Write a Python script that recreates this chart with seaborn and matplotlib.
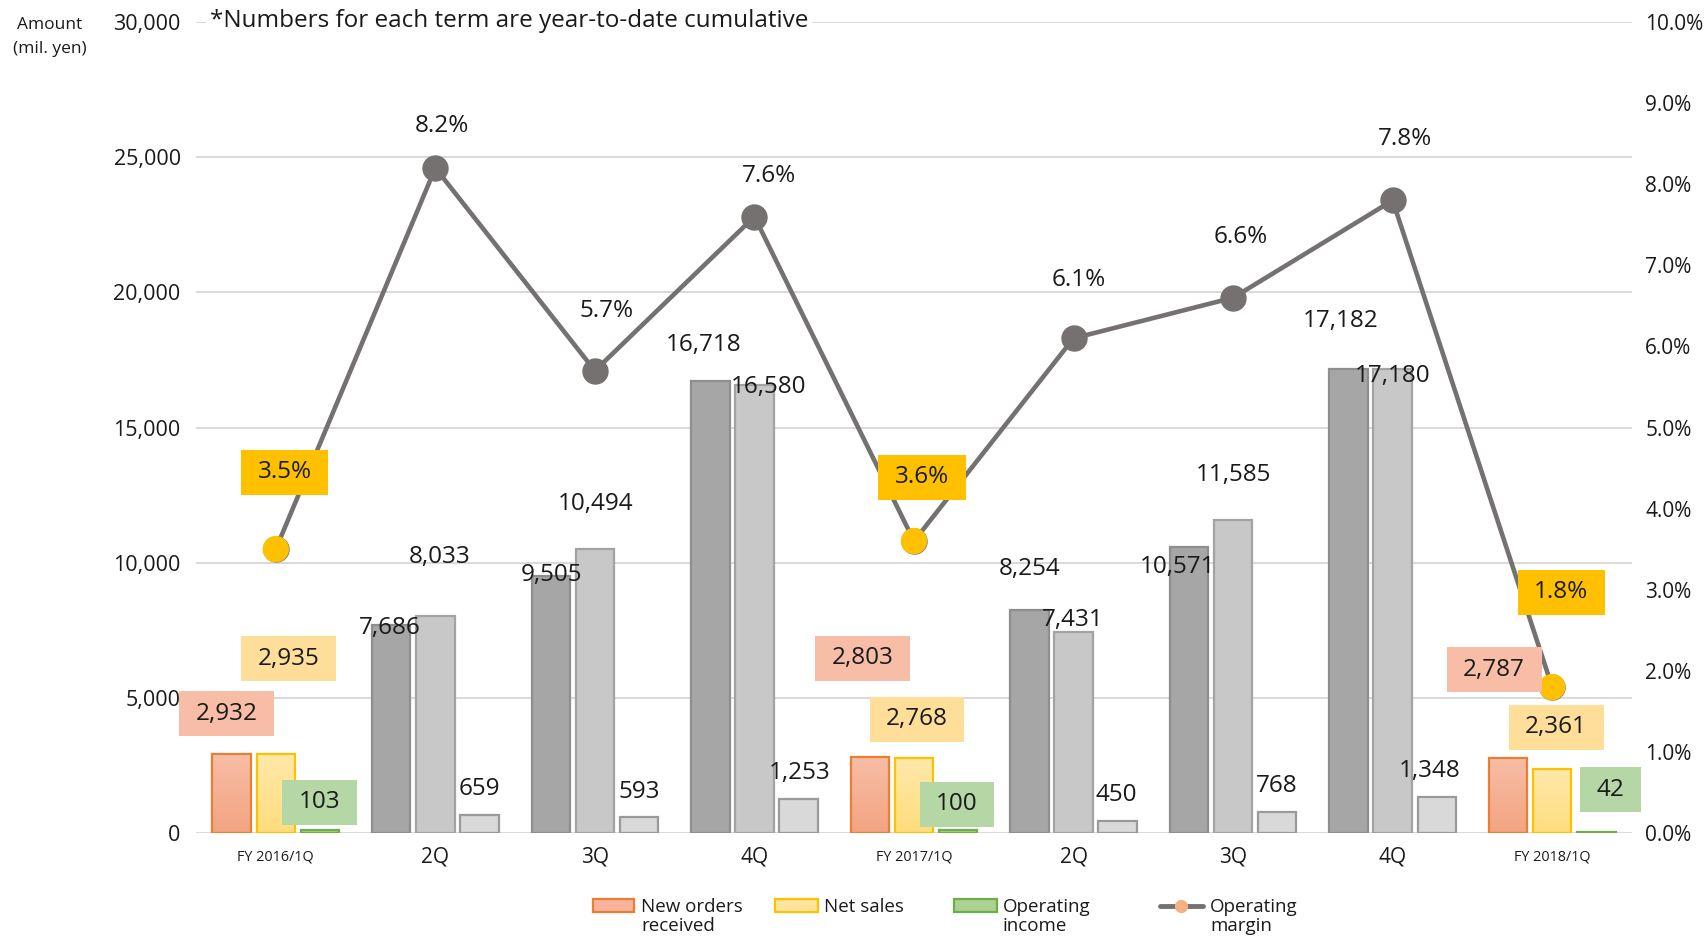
import numpy as np
import pandas as pd
import matplotlib
matplotlib.use("Agg")
import matplotlib.pyplot as plt
import seaborn as sns
from matplotlib.patches import Rectangle
from matplotlib.lines import Line2D
from matplotlib.path import Path
from matplotlib.colors import LinearSegmentedColormap

# ---- data -------------------------------------------------------------
periods = ["FY 2016/1Q", "2Q", "3Q", "4Q", "FY 2017/1Q", "2Q", "3Q", "4Q", "FY 2018/1Q"]
new_orders = [2932, 7686, 9505, 16718, 2803, 8254, 10571, 17182, 2787]
net_sales = [2935, 8033, 10494, 16580, 2768, 7431, 11585, 17180, 2361]
op_income = [103, 659, 593, 1253, 100, 450, 768, 1348, 42]
op_margin = [3.5, 8.2, 5.7, 7.6, 3.6, 6.1, 6.6, 7.8, 1.8]
series_names = ["New orders received", "Net sales", "Operating income"]
amount_ticks = [0, 5000, 10000, 15000, 20000, 25000, 30000]
margin_ticks = [0, 1, 2, 3, 4, 5, 6, 7, 8, 9, 10]

# ---- styling ----------------------------------------------------------
sns.set_style("white")
plt.rcParams["font.family"] = ["Open Sans", "DejaVu Sans"]
TXT = "#1a1a1a"

first_q = [p.startswith("FY") for p in periods]
n = len(periods)

# gradient (bottom, top), edge, label box colours of the first-quarter bars
q1_style = [
    (("#F3A481", "#F7BDA6"), "#ED7D31", "#F7BDA6"),
    (("#FFDD7E", "#FFE8AA"), "#FFC000", "#FFDE9A"),
    (("#9CCB80", "#B8DAA5"), "#70AD47", "#B5D6A5"),
]
# fill, edge of the grey bars for the remaining quarters
grey_style = [("#A6A6A6", "#8E8E8E"), ("#C8C8C8", "#A3A3A3"), ("#D9D9D9", "#9A9A9A")]


def label_box(x0, y0, width, height, mutation_size):
    """Flat rectangle with a wider horizontal than vertical margin."""
    padx = 0.68 * mutation_size
    h = 1.85 * mutation_size
    cy = y0 + height / 2
    return Path([(x0 - padx, cy - h / 2), (x0 + width + padx, cy - h / 2),
                 (x0 + width + padx, cy + h / 2), (x0 - padx, cy + h / 2),
                 (x0 - padx, cy - h / 2)], closed=True)


df = pd.DataFrame({
    "period": np.tile(np.arange(n), 3),
    "series": np.repeat(series_names, n),
    "amount": new_orders + net_sales + op_income,
})

fig = plt.figure(figsize=(17.06, 9.36), dpi=100)
ax = fig.add_axes([0.1149, 0.110, 0.8417, 0.8665])

sns.barplot(data=df, x="period", y="amount", hue="series", hue_order=series_names,
            width=0.83, gap=0.13, saturation=1, errorbar=None, legend=False, ax=ax)

grad = np.linspace(0, 1, 128).reshape(-1, 1)
for s, cont in enumerate(ax.containers):
    bars = sorted(cont.patches, key=lambda p: p.get_x())
    for i, bar in enumerate(bars):
        bar.set_linewidth(1.6)
        bar.set_zorder(3)
        if first_q[i]:
            (c_bot, c_top), edge, _ = q1_style[s]
            bar.set_facecolor("none")
            bar.set_edgecolor(edge)
            x0, w, h = bar.get_x(), bar.get_width(), bar.get_height()
            cmap = LinearSegmentedColormap.from_list("g", [c_bot, c_top])
            im = ax.imshow(grad, cmap=cmap, origin="lower", aspect="auto",
                           extent=(x0, x0 + w, 0, h), zorder=2.9)
            im.set_clip_path(bar)
        else:
            fill, edge = grey_style[s]
            bar.set_facecolor(fill)
            bar.set_edgecolor(edge)
ax.set_xlim(-0.5, n - 0.5)
ax.set_ylim(0, 30000)

ax.set_axisbelow(True)
ax.grid(axis="y", color="#D9D9D9", lw=1.4)
ax.grid(axis="x", visible=False)
for sp in ax.spines.values():
    sp.set_visible(False)
ax.set_xlabel("")
ax.set_ylabel("")
ax.set_yticks(amount_ticks)
ax.set_yticklabels([f"{v:,}" for v in amount_ticks], fontsize=15.5, color=TXT)
ax.tick_params(axis="y", length=0, pad=11)
ax.set_xticks(range(n))
ax.set_xticklabels(periods, color=TXT)
ax.tick_params(axis="x", length=0, pad=17)
for lab, fq in zip(ax.get_xticklabels(), first_q):
    lab.set_fontsize(10.4 if fq else 15)
    lab.set_va("center")

# ---- operating margin on the secondary axis ----------------------------
ax2 = ax.twinx()
xs = np.arange(n)
sns.lineplot(x=xs, y=op_margin, ax=ax2, color="#757171", lw=3.3, marker="o",
             markersize=19, markeredgewidth=0, markerfacecolor="#757171", zorder=4)
sns.scatterplot(x=xs[first_q], y=np.array(op_margin)[first_q], ax=ax2, s=19 ** 2,
                color="#FFC000", edgecolor="none", zorder=5, legend=False)
ax2.set_ylim(0, 10)
ax2.set_xlim(-0.5, n - 0.5)
ax2.set_yticks(margin_ticks)
ax2.set_yticklabels([f"{v:.1f}%" for v in margin_ticks], fontsize=15, color=TXT)
ax2.tick_params(axis="y", length=0, pad=9.5)
ax2.set_ylabel("")
for sp in ax2.spines.values():
    sp.set_visible(False)
ax2.grid(False)

# ---- data labels (offsets in pixels from the mark) ----------------------
bar_offset = [-0.276, 0.0, 0.276]
label_shift = [
    [(-5, 40), (-2, -3), (1, 1), (-7, 36), (-7, 99), (0, 41), (-12, -20), (-8, 48), (-14, 88)],
    [(13, 95), (4, 59), (1, 45), (14, -2), (3, 39), (-1, 12), (0, 45), (0, -7), (4, 42)],
    [(0, 28), (0, 26), (0, 25), (1, 26), (-1, 26), (-1, 26), (0, 26), (-7, 26), (14, 42)],
]
margin_shift = [(9, 77), (7, 42), (12, 60), (15, 41), (8, 64), (5, 58), (8, 61), (12, 61), (9, 95)]
LBL = 17.5

for s, values in enumerate([new_orders, net_sales, op_income]):
    for i, v in enumerate(values):
        kw = {}
        if first_q[i]:
            kw["bbox"] = dict(boxstyle=label_box, fc=q1_style[s][2], ec="none")
        ax2.annotate(f"{v:,}", xy=(i + bar_offset[s], v), xycoords=ax.transData,
                     xytext=label_shift[s][i], textcoords="offset pixels",
                     ha="center", va="center", fontsize=LBL, color=TXT, zorder=6, **kw)

for i, v in enumerate(op_margin):
    kw = {}
    if first_q[i]:
        kw["bbox"] = dict(boxstyle=label_box, fc="#FFC000", ec="none")
    ax2.annotate(f"{v:.1f}%", xy=(i, v), xytext=margin_shift[i], textcoords="offset pixels",
                 ha="center", va="center", fontsize=LBL, color=TXT, zorder=6, **kw)

# ---- overlay in pixel coordinates: titles and legend --------------------
ov = fig.add_axes([0, 0, 1, 1])
ov.set_xlim(0, 1706)
ov.set_ylim(936, 0)
ov.set_axis_off()
ov.set_zorder(10)

ov.text(210, 21, "*Numbers for each term are year-to-date cumulative", fontsize=17.5,
        color=TXT, ha="left", va="center",
        bbox=dict(boxstyle="square,pad=0.15", fc="white", ec="none"))
ov.text(50, 37, "Amount\n(mil. yen)", fontsize=12.5, color=TXT, ha="center", va="center",
        linespacing=1.6)

legend_items = [
    ("patch", 593, 634, "#F5B49B", "#ED7D31", "New orders\nreceived", 641),
    ("patch", 775, 818, "#FFE4A0", "#FFC000", "Net sales", 824),
    ("patch", 954, 997, "#ABD193", "#70AD47", "Operating\nincome", 1003),
    ("line", 1160, 1203, "#F4B183", "#767171", "Operating\nmargin", 1210),
]
for kind, x0, x1, fc, ec, label, tx in legend_items:
    if kind == "patch":
        ov.add_patch(Rectangle((x0, 899), x1 - x0, 13, fc=fc, ec=ec, lw=1.6))
    else:
        ov.add_line(Line2D([x0, x1], [905.5, 905.5], color=ec, lw=3.5))
        ov.plot([(x0 + x1) / 2], [905.5], marker="o", ms=9.5, color=fc, mec="none")
    ov.text(tx, 898, label, fontsize=13.5, color=TXT, ha="left", va="top", linespacing=1.1)

fig.savefig("out.png", dpi=100)
